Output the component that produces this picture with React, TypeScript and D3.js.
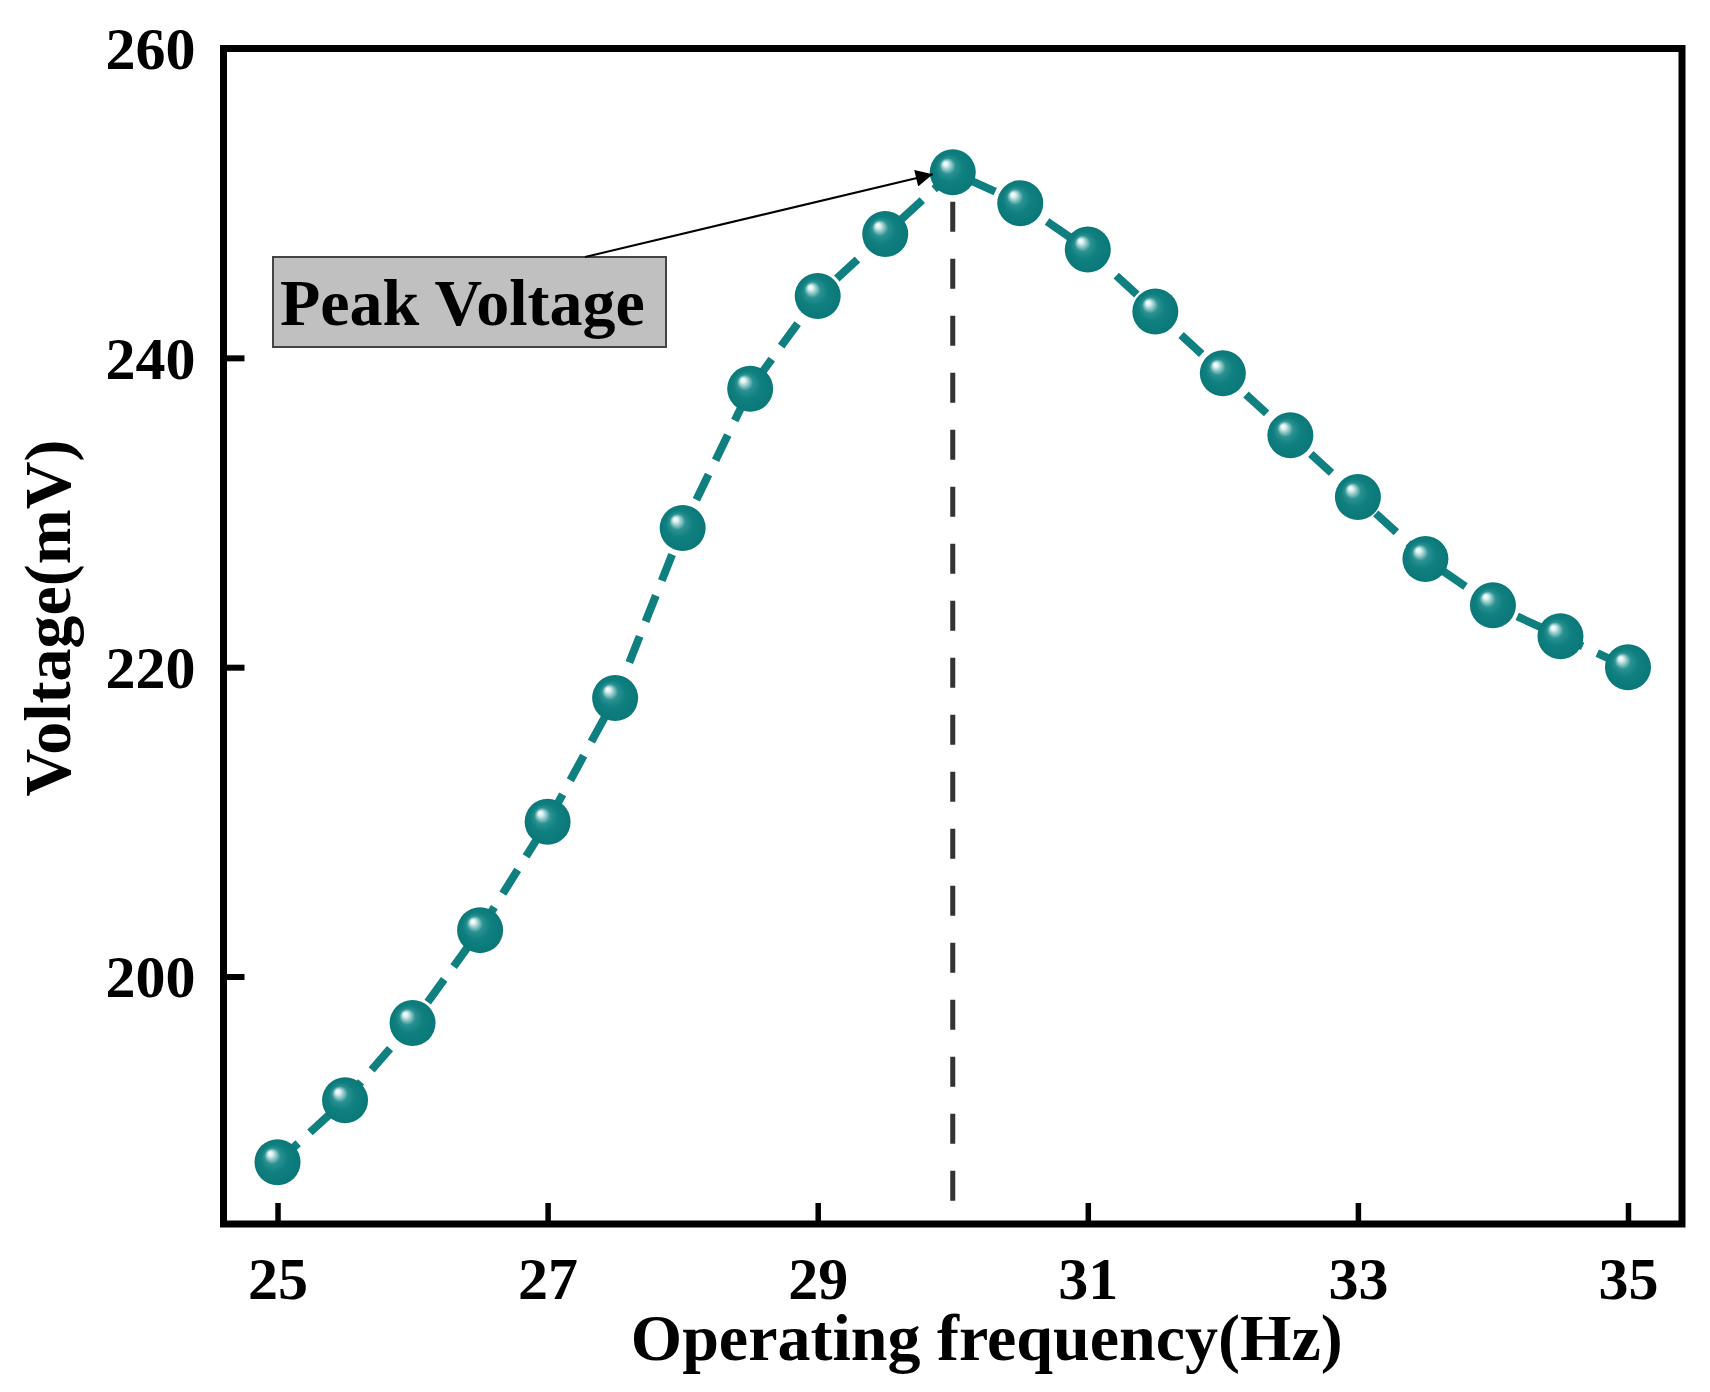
import { useRef, useEffect } from 'react';
import * as d3 from 'd3';

const frequency = [25, 25.5, 26, 26.5, 27, 27.5, 28, 28.5, 29, 29.5, 30, 30.5, 31, 31.5, 32, 32.5, 33, 33.5, 34, 34.5, 35];
const voltage = [188, 192, 197, 203, 210, 218, 229, 238, 244, 248, 252, 250, 247, 243, 239, 235, 231, 227, 224, 222, 220];
const xTicks = [25, 27, 29, 31, 33, 35];
const yTicks = [200, 220, 240, 260];
const peakLabel = 'Peak Voltage';
const xLabel = 'Operating frequency(Hz)';
const yLabel = 'Voltage(mV)';

const WIDTH = 1710;
const HEIGHT = 1392;
const FONT = '"Liberation Serif", "Times New Roman", serif';
const TEAL = '#0f7f7f';

const App = () => {
  const svgRef = useRef<SVGSVGElement | null>(null);

  useEffect(() => {
    const svg = d3.select(svgRef.current);
    svg.selectAll('*').remove();

    const margin = { top: 48.5, right: 28, bottom: 168, left: 223.5 };

    const x = d3.scaleLinear()
      .domain([24.6, 35.4])
      .range([margin.left, WIDTH - margin.right]);

    const y = d3.scaleLinear()
      .domain([184, 260])
      .range([HEIGHT - margin.bottom, margin.top]);

    const data = frequency.map((f, i) => ({ f, v: voltage[i] }));
    const peak = data.reduce((a, b) => (b.v > a.v ? b : a));

    const defs = svg.append('defs');
    const grad = defs.append('radialGradient')
      .attr('id', 'ball')
      .attr('cx', '50%').attr('cy', '50%').attr('r', '50%')
      .attr('fx', '33%').attr('fy', '30%');
    grad.append('stop').attr('offset', '0%').attr('stop-color', '#ffffff');
    grad.append('stop').attr('offset', '10%').attr('stop-color', '#e0f2f2');
    grad.append('stop').attr('offset', '35%').attr('stop-color', '#2a9191');
    grad.append('stop').attr('offset', '60%').attr('stop-color', TEAL);
    grad.append('stop').attr('offset', '100%').attr('stop-color', '#0b7878');

    defs.append('marker')
      .attr('id', 'arrow')
      .attr('viewBox', '0 0 10 10')
      .attr('refX', 10).attr('refY', 5)
      .attr('markerWidth', 32).attr('markerHeight', 17)
      .attr('markerUnits', 'userSpaceOnUse')
      .attr('orient', 'auto')
      .append('path')
      .attr('d', 'M0,0 L10,5 L0,10 Z')
      .attr('fill', '#000');

    // vertical guide at the peak
    svg.append('line')
      .attr('x1', x(peak.f)).attr('x2', x(peak.f))
      .attr('y1', y(185.5)).attr('y2', y(peak.v))
      .attr('stroke', '#333')
      .attr('stroke-width', 5)
      .attr('stroke-dasharray', '30 27');

    const line = d3.line<{ f: number; v: number }>()
      .x(d => x(d.f))
      .y(d => y(d.v));

    svg.append('path')
      .datum(data)
      .attr('fill', 'none')
      .attr('stroke', TEAL)
      .attr('stroke-width', 8)
      .attr('stroke-dasharray', '28 16')
      .attr('d', line);

    svg.selectAll('.dot')
      .data(data)
      .enter()
      .append('circle')
      .attr('class', 'dot')
      .attr('cx', d => x(d.f))
      .attr('cy', d => y(d.v))
      .attr('r', 23)
      .attr('fill', 'url(#ball)');

    // frame
    svg.append('rect')
      .attr('x', x(24.6)).attr('y', y(260))
      .attr('width', x(35.4) - x(24.6))
      .attr('height', y(184) - y(260))
      .attr('fill', 'none')
      .attr('stroke', '#000')
      .attr('stroke-width', 7);

    // x axis
    const xAxis = svg.append('g')
      .attr('transform', `translate(0,${y(184)})`)
      .call(d3.axisBottom(x).tickValues(xTicks).tickSize(-21).tickPadding(32).tickFormat(d3.format('d')));
    xAxis.select('.domain').remove();
    xAxis.selectAll('line').attr('stroke', '#000').attr('stroke-width', 5.5);
    xAxis.selectAll('text')
      .attr('fill', '#000')
      .style('font-family', FONT)
      .style('font-weight', 'bold')
      .style('font-size', '60px');

    // y axis
    const yAxis = svg.append('g')
      .attr('transform', `translate(${x(24.6)},0)`)
      .call(d3.axisLeft(y).tickValues(yTicks).tickSize(-21).tickPadding(28).tickFormat(d3.format('d')));
    yAxis.select('.domain').remove();
    yAxis.selectAll('line').attr('stroke', '#000').attr('stroke-width', 6);
    yAxis.selectAll('text')
      .attr('fill', '#000')
      .attr('dy', '0.34em')
      .style('font-family', FONT)
      .style('font-weight', 'bold')
      .style('font-size', '60px');

    // annotation box
    svg.append('rect')
      .attr('x', 273).attr('y', 257)
      .attr('width', 393).attr('height', 90)
      .attr('fill', '#c0c0c0')
      .attr('stroke', '#444')
      .attr('stroke-width', 2);

    svg.append('text')
      .attr('x', 280).attr('y', 325)
      .text(peakLabel)
      .style('font-family', FONT)
      .style('font-weight', 'bold')
      .style('font-size', '66px')
      .attr('fill', '#000');

    svg.append('line')
      .attr('x1', 585).attr('y1', 257)
      .attr('x2', x(peak.f) - 20).attr('y2', y(peak.v) + 2)
      .attr('stroke', '#000')
      .attr('stroke-width', 2)
      .attr('marker-end', 'url(#arrow)');

    svg.append('text')
      .attr('text-anchor', 'middle')
      .attr('x', (x(24.6) + x(35.4)) / 2 + 34)
      .attr('y', 1360)
      .text(xLabel)
      .style('font-family', FONT)
      .style('font-weight', 'bold')
      .style('font-size', '66px');

    svg.append('text')
      .attr('text-anchor', 'middle')
      .attr('transform', 'rotate(-90)')
      .attr('x', -618)
      .attr('y', 70)
      .text(yLabel)
      .style('font-family', FONT)
      .style('font-weight', 'bold')
      .style('font-size', '66px');
  }, []);

  return (
    <svg
      ref={svgRef}
      width={WIDTH}
      height={HEIGHT}
      style={{ position: 'absolute', left: 0, top: 0, background: '#fff' }}
    ></svg>
  );
};

export default App;
